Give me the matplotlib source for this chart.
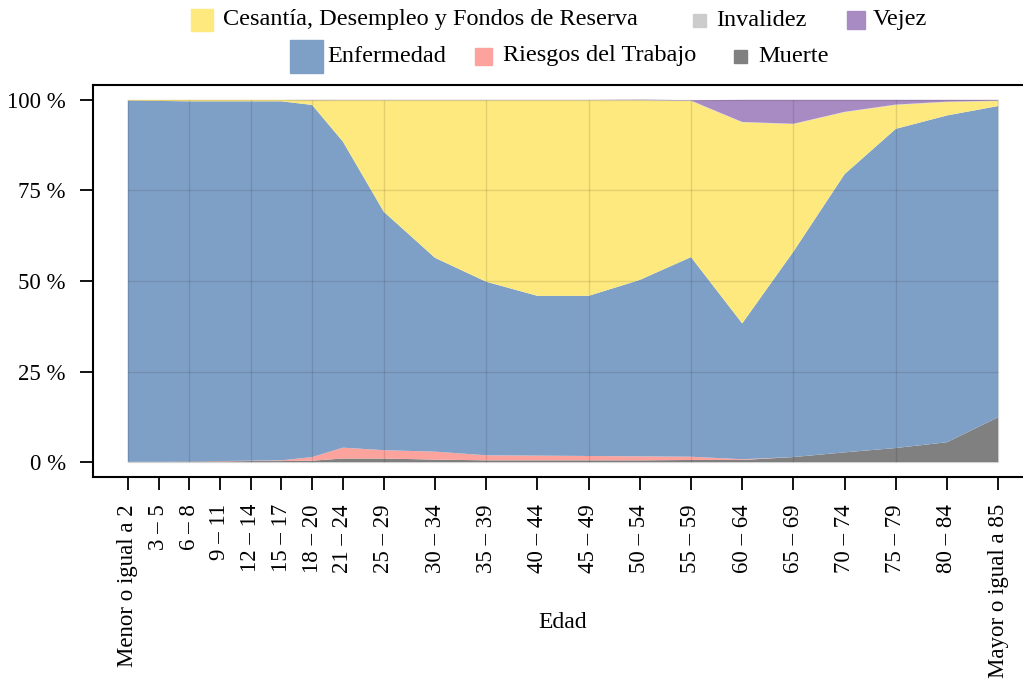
import numpy as np
import matplotlib
matplotlib.use("Agg")
import matplotlib.pyplot as plt
from matplotlib.patches import Rectangle

plt.rcParams['font.family'] = ['Liberation Serif', 'DejaVu Serif']

# Age group position (lower bound) and labels
edad_pos = [0, 3, 6, 9, 12, 15, 18, 21, 25, 30, 35, 40, 45, 50, 55, 60, 65, 70, 75, 80, 85]
edad_lab = ['Menor o igual a 2', '3 – 5', '6 – 8', '9 – 11', '12 – 14', '15 – 17',
            '18 – 20', '21 – 24', '25 – 29', '30 – 34', '35 – 39', '40 – 44',
            '45 – 49', '50 – 54', '55 – 59', '60 – 64', '65 – 69', '70 – 74',
            '75 – 79', '80 – 84', 'Mayor o igual a 85']

# percentages per insurance type (bottom to top)
muerte = [0.1, 0.1, 0.2, 0.2, 0.3, 0.3, 0.4, 1.0, 1.0, 0.7, 0.5, 0.5, 0.5, 0.5, 0.6,
          0.6, 1.4, 2.7, 3.9, 5.5, 12.4]
riesgos = [0.0, 0.0, 0.0, 0.1, 0.1, 0.2, 1.0, 3.0, 2.3, 2.2, 1.4, 1.3, 1.2, 1.1, 0.9,
           0.2, 0.0, 0.0, 0.0, 0.0, 0.0]
enfermedad = [99.7, 99.6, 99.4, 99.3, 99.2, 99.1, 97.2, 84.5, 65.8, 53.5, 47.9, 44.1,
              44.2, 48.7, 55.1, 37.5, 56.7, 76.8, 88.1, 90.2, 85.9]
cesantia = [0.2, 0.3, 0.4, 0.4, 0.4, 0.4, 1.3, 11.4, 30.8, 43.5, 50.1, 54.0, 54.0,
            49.6, 43.1, 55.5, 35.2, 17.1, 6.6, 3.7, 1.4]
invalidez = [0.0, 0.0, 0.0, 0.0, 0.0, 0.0, 0.0, 0.05, 0.05, 0.05, 0.05, 0.05, 0.05,
             0.1, 0.1, 0.1, 0.1, 0.1, 0.1, 0.1, 0.1]
vejez = [0.0, 0.0, 0.0, 0.0, 0.0, 0.0, 0.1, 0.05, 0.05, 0.05, 0.05, 0.05, 0.05, 0.1,
         0.1, 6.1, 6.6, 3.3, 1.3, 0.5, 0.2]

colores = {'Muerte': '#808080', 'Riesgos del Trabajo': '#fda39e',
           'Enfermedad': '#7fa0c6', 'Cesantía, Desempleo y Fondos de Reserva': '#fde97e',
           'Invalidez': '#cccccc', 'Vejez': '#a88bc2'}

W, H = 1023, 689
fig = plt.figure(figsize=(10.23, 6.89), dpi=100)
ax = fig.add_axes([93 / W, 212 / H, 940 / W, 392 / H])

ax.stackplot(edad_pos, muerte, riesgos, enfermedad, cesantia, invalidez, vejez,
             colors=[colores['Muerte'], colores['Riesgos del Trabajo'],
                     colores['Enfermedad'],
                     colores['Cesantía, Desempleo y Fondos de Reserva'],
                     colores['Invalidez'], colores['Vejez']],
             linewidth=0)

# grid only over the data region, drawn on top
for gx in edad_pos[::2]:
    ax.vlines(gx, 0, 100, color='black', alpha=0.11, lw=1, zorder=3)
for gy in [0, 25, 50, 75, 100]:
    ax.hlines(gy, 0, 85, color='black', alpha=0.11, lw=1, zorder=3)

ax.set_xlim(-3.4, 88.4)
ax.set_ylim(-4.1, 104.1)
ax.set_xticks(edad_pos)
ax.set_xticklabels(edad_lab, rotation=90)
ax.set_yticks([0, 25, 50, 75, 100])
ax.set_yticklabels(['0 %', '25 %', '50 %', '75 %', '100 %'])
ax.tick_params(direction='out', length=9.5, width=1.3, labelsize=16.5, pad=10)
for sp in ax.spines.values():
    sp.set_linewidth(1.5)
fig.text(563 / W, 1 - 622 / H, 'Edad', fontsize=17, ha='center', va='center')

# legend built by hand (keys of different sizes)
leg = [('Cesantía, Desempleo y Fondos de Reserva', 202, 20, 22, 223),
       ('Invalidez', 699, 20, 13, 716),
       ('Vejez', 856, 20, 18, 873),
       ('Enfermedad', 306, 56, 33, 327),
       ('Riesgos del Trabajo', 483, 56, 17, 503),
       ('Muerte', 740, 56, 13, 758)]
for nombre, cx, cy, s, tx in leg:
    fig.patches.append(Rectangle(((cx - s / 2) / W, 1 - (cy + s / 2) / H), s / W, s / H,
                                 transform=fig.transFigure, color=colores[nombre]))
    fig.text(tx / W, 1 - cy / H, nombre, fontsize=17.5, va='center', ha='left')

fig.savefig('out.png', dpi=100)
